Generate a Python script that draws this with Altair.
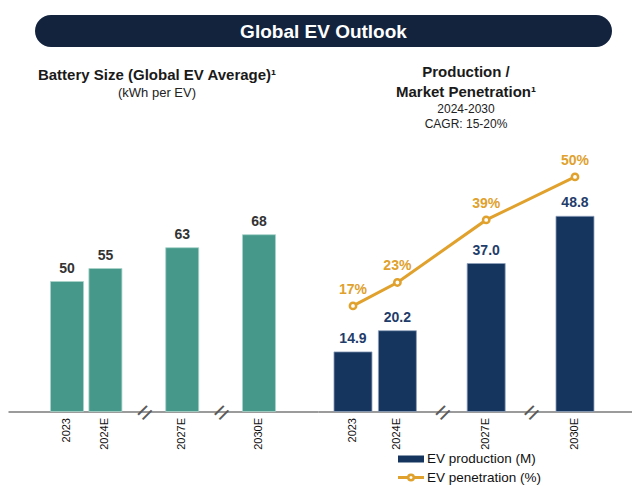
import json
import altair as alt
import pandas as pd

# ---------------- data ----------------
BANNER_TITLE = "Global EV Outlook"
LEFT_TITLE = ["Battery Size (Global EV Average)¹"]
LEFT_SUBTITLE = ["(kWh per EV)"]
RIGHT_TITLE = ["Production /", "Market Penetration¹"]
RIGHT_SUBTITLE = ["2024-2030", "CAGR: 15-20%"]

YEARS = ["2023", "2024E", "2027E", "2030E"]
BREAK_SLOTS = ["brk1", "brk2"]
AXIS_SLOTS = ["2023", "2024E", "brk1", "2027E", "brk2", "2030E"]
LEFT_SLOTS = ["padL"] + AXIS_SLOTS + ["padR"]

BATTERY_KWH = [50, 55, 63, 68]
EV_PRODUCTION_M = [14.9, 20.2, 37.0, 48.8]
EV_PENETRATION_PCT = [17, 23, 39, 50]
LEGEND_LABELS = ["EV production (M)", "EV penetration (%)"]

# ---------------- style ----------------
FONT = "Liberation Sans"
TEAL = "#46998a"
NAVY = "#15355e"
NAVY_TEXT = "#1f3d6b"
GOLD = "#e0a12d"
BANNER = "#13233e"

left_df = pd.DataFrame({"year": YEARS, "kwh": BATTERY_KWH})
right_df = pd.DataFrame({"year": YEARS, "prod": EV_PRODUCTION_M, "pen": EV_PENETRATION_PCT})
break_df = pd.DataFrame({"year": BREAK_SLOTS})

show_expr = "indexof(%s, datum.value) < 0 ? '' : datum.label" % json.dumps(YEARS).replace('"', "'")

x_axis = alt.Axis(title=None, labelAngle=270, labelFontSize=11, labelColor="#111111",
                  labelFont=FONT, labelPadding=6, ticks=False, domainColor="#7a7a7a",
                  domainWidth=1.5, labelExpr=show_expr)

xL = alt.X("year:N", scale=alt.Scale(domain=LEFT_SLOTS, paddingInner=0.14, paddingOuter=0.107),
           axis=x_axis)
xR = alt.X("year:N", scale=alt.Scale(domain=AXIS_SLOTS, paddingInner=0.144, paddingOuter=0.608,
                                     align=0.296), axis=x_axis)

yL_scale = alt.Scale(domain=[0, 100], nice=False, zero=True)
yP_scale = alt.Scale(domain=[0, 65], nice=False, zero=True)
yN_scale = alt.Scale(domain=[-10, 56.5], nice=False, zero=False)

BREAK_STYLE = dict(text="=", angle=315, fontSize=26, color="#5a5a5a", font=FONT, dy=2)

# ---------------- left panel ----------------
left_base = alt.Chart(left_df).encode(x=xL, y=alt.Y("kwh:Q", scale=yL_scale, axis=None))
left_bars = left_base.mark_bar(color=TEAL, stroke="#a9d3c9", strokeWidth=0.8)
left_lbl = left_base.mark_text(dy=-13, fontSize=14, fontWeight="bold", color="#333333",
                               font=FONT).encode(text=alt.Text("kwh:Q", format="d"))
left_brk = alt.Chart(break_df).mark_text(**BREAK_STYLE).encode(
    x=xL, y=alt.YDatum(0, scale=yL_scale, axis=None))

left = alt.layer(left_bars, left_lbl, left_brk).properties(
    width=310, height=260,
    title=alt.TitleParams(text=LEFT_TITLE, subtitle=LEFT_SUBTITLE, anchor="middle", dx=-6,
                          font=FONT, fontSize=15, fontWeight="bold", color="#1a1a1a",
                          subtitleFont=FONT, subtitleFontSize=13, subtitleColor="#222222",
                          subtitlePadding=4, offset=52))

# ---------------- right panel ----------------
right_base = alt.Chart(right_df).encode(x=xR)
r_bars = right_base.mark_bar(color=NAVY, stroke="#8fa1bb", strokeWidth=0.8).encode(
    y=alt.Y("prod:Q", scale=yP_scale, axis=None))
r_bar_lbl = right_base.mark_text(dy=-13, fontSize=14, fontWeight="bold", color=NAVY_TEXT,
                                 font=FONT).encode(
    y=alt.Y("prod:Q", scale=yP_scale, axis=None),
    text=alt.Text("prod:Q", format=".1f"))
r_line = right_base.mark_line(color=GOLD, strokeWidth=3).encode(
    y=alt.Y("pen:Q", scale=yN_scale, axis=None))
r_pts = right_base.mark_point(filled=True, fill="white", stroke=GOLD, strokeWidth=2.5,
                              size=40, opacity=1).encode(
    y=alt.Y("pen:Q", scale=yN_scale, axis=None))
r_pen_lbl = right_base.transform_calculate(lbl="datum.pen + '%'").mark_text(
    dy=-16, fontSize=14, fontWeight="bold", color=GOLD, font=FONT).encode(
    y=alt.Y("pen:Q", scale=yN_scale, axis=None), text="lbl:N")
r_brk = alt.Chart(break_df).mark_text(**BREAK_STYLE).encode(
    x=xR, y=alt.YDatum(0, scale=yP_scale, axis=None))

# legend (decoration drawn below the axis)
LEG_Y1, LEG_Y2 = 307.5, 326
leg_df = pd.DataFrame({"label": LEGEND_LABELS})
leg_rect = alt.Chart(leg_df.iloc[[0]]).mark_rect(color=NAVY).encode(
    x=alt.value(80), x2=alt.value(106), y=alt.value(LEG_Y1 - 3.5), y2=alt.value(LEG_Y1 + 3.5))
leg_rule = alt.Chart(leg_df.iloc[[1]]).mark_rule(color=GOLD, strokeWidth=3).encode(
    x=alt.value(80), x2=alt.value(106), y=alt.value(LEG_Y2))
leg_pt = alt.Chart(leg_df.iloc[[1]]).mark_point(filled=True, fill="white", stroke=GOLD,
                                                strokeWidth=2.5, size=30, opacity=1).encode(
    x=alt.value(93), y=alt.value(LEG_Y2))
leg_txt1 = alt.Chart(leg_df.iloc[[0]]).mark_text(align="left", baseline="middle", fontSize=13.5,
                                                 color="#111111", font=FONT).encode(
    x=alt.value(109), y=alt.value(LEG_Y1), text="label:N")
leg_txt2 = alt.Chart(leg_df.iloc[[1]]).mark_text(align="left", baseline="middle", fontSize=13.5,
                                                 color="#111111", font=FONT).encode(
    x=alt.value(109), y=alt.value(LEG_Y2), text="label:N")

right = alt.layer(r_bars, r_bar_lbl, r_line, r_pts, r_pen_lbl, r_brk,
                  leg_rect, leg_rule, leg_pt, leg_txt1, leg_txt2).resolve_scale(
    y="independent").properties(
    width=314, height=260,
    title=alt.TitleParams(text=RIGHT_TITLE, subtitle=RIGHT_SUBTITLE, anchor="middle", dx=-9,
                          font=FONT, fontSize=15, fontWeight="bold", color="#1a1a1a",
                          lineHeight=20, subtitleFont=FONT, subtitleFontSize=12,
                          subtitleColor="#222222", subtitleLineHeight=14.5,
                          subtitlePadding=4, offset=22))

# ---------------- banner ----------------
banner_df = pd.DataFrame({"title": [BANNER_TITLE]})
banner_rect = alt.Chart(banner_df).mark_rect(cornerRadius=16, color=BANNER).encode(
    x=alt.value(27), x2=alt.value(604), y=alt.value(7), y2=alt.value(39))
banner_txt = alt.Chart(banner_df).mark_text(fontSize=19, fontWeight="bold", color="white",
                                            font=FONT).encode(
    x=alt.value(315.5), y=alt.value(23.5), text="title:N")
banner = alt.layer(banner_rect, banner_txt).properties(width=624, height=39)

row = alt.hconcat(left, right, spacing=0, bounds="flush")
chart = alt.vconcat(banner, row, spacing=17.5).properties(padding=0).configure(
    font=FONT, padding=0, view=alt.ViewConfig(stroke=None))

chart.save("out.html", embed_options={"renderer": "svg", "actions": False})
